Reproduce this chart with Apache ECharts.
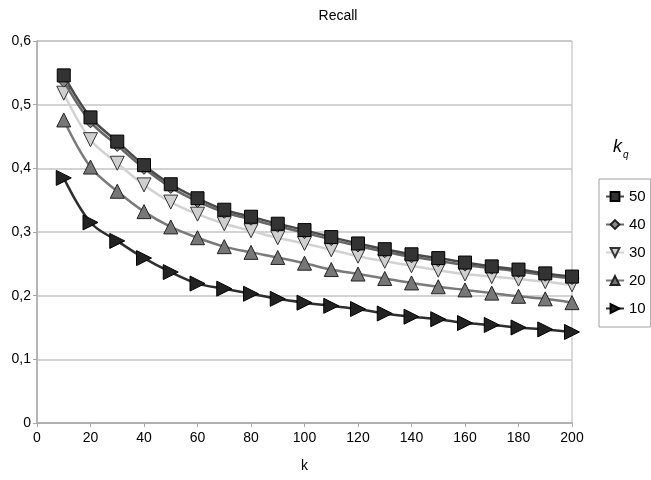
<!DOCTYPE html>
<html><head><meta charset="utf-8">
<script src="https://cdn.jsdelivr.net/npm/echarts@6/dist/echarts.min.js"></script>
<style>html,body{margin:0;padding:0;background:#fff}#c{width:651px;height:480px}</style>
</head><body><div id="c"></div>
<script>
const kValues = [10,20,30,40,50,60,70,80,90,100,110,120,130,140,150,160,170,180,190,200];
const recall50 = [0.546,0.480,0.442,0.405,0.375,0.353,0.335,0.324,0.313,0.303,0.292,0.282,0.273,0.265,0.259,0.252,0.246,0.241,0.235,0.230];
const recall40 = [0.537,0.473,0.436,0.400,0.370,0.348,0.331,0.320,0.309,0.299,0.288,0.278,0.269,0.261,0.255,0.248,0.243,0.238,0.232,0.227];
const recall30 = [0.518,0.445,0.408,0.374,0.347,0.328,0.313,0.302,0.291,0.282,0.272,0.262,0.254,0.247,0.240,0.234,0.230,0.226,0.222,0.217];
const recall20 = [0.476,0.402,0.364,0.332,0.308,0.291,0.277,0.268,0.260,0.251,0.241,0.234,0.227,0.220,0.214,0.209,0.204,0.199,0.195,0.189];
const recall10 = [0.385,0.315,0.286,0.259,0.237,0.219,0.211,0.203,0.195,0.189,0.184,0.179,0.172,0.167,0.163,0.157,0.154,0.150,0.147,0.143];
const seriesNames = ['50','40','30','20','10'];

function pairs(vals){ return kValues.map((k,i)=>[k, vals[i]]); }

const chart = echarts.init(document.getElementById('c'), null, {renderer:'canvas'});
const font = 'Liberation Sans, Arial, sans-serif';
function mk(name, vals, symbol, rot, size, lineColor, fill, border, z){
  return {
    name, type:'line', data: pairs(vals), smooth: 0.35,
    symbol, symbolRotate: rot, symbolSize: size, showSymbol:true,
    lineStyle:{color: lineColor, width: 2.5},
    itemStyle:{color: fill, borderColor: border, borderWidth: 1},
    z, emphasis:{disabled:true}, animation:false
  };
}
chart.setOption({
  animation:false,
  backgroundColor:'#fff',
  title:{text:'Recall', left:333, top:4, textAlign:'center',
    textStyle:{fontFamily:font, fontSize:14, fontWeight:'normal', color:'#000'}},
  graphic:[{type:'text', left:613, top:138, style:{
    text:'{k|k}{q|q}', fontFamily:font,
    rich:{k:{fontSize:18, fontStyle:'italic', fill:'#000', fontFamily:font},
          q:{fontSize:10, fontStyle:'italic', fill:'#000', fontFamily:font, padding:[16,0,0,1]}}
  }}],
  legend:{
    data: seriesNames, orient:'vertical', left:599, top:179,
    itemWidth:18, itemHeight:11, itemGap:13, itemSymbolSize: 9,
    padding:[10,5,11,6], borderColor:'#a0a0a0', borderWidth:1,
    textStyle:{fontFamily:font, fontSize:15, color:'#000'},
    selectedMode:false
  },
  grid:{left:37, right:79, top:41, bottom:57, show:true, borderColor:'#b4b4b4', borderWidth:1},
  xAxis:{type:'value', min:0, max:200, interval:20, name:'k', nameLocation:'middle', nameGap:36,
    nameTextStyle:{fontFamily:font, fontSize:14, color:'#000'},
    axisLine:{show:true, lineStyle:{color:'#a8a8a8', width:1.5}},
    axisTick:{show:true, length:4, lineStyle:{color:'#a8a8a8'}},
    axisLabel:{fontFamily:font, fontSize:14, color:'#000', margin:8},
    splitLine:{show:false}},
  yAxis:{type:'value', min:0, max:0.6, interval:0.1,
    axisLine:{show:true, lineStyle:{color:'#a8a8a8', width:1.5}},
    axisTick:{show:true, length:4, lineStyle:{color:'#a8a8a8'}},
    axisLabel:{fontFamily:font, fontSize:14, color:'#000', margin:6,
      formatter:v=> v===0 ? '0' : v.toFixed(1).replace('.',',')},
    splitLine:{show:true, lineStyle:{color:'#c4c4c4', width:1.5}}},
  series:[
    mk('10', recall10, 'triangle', -90, 15, '#2e2e2e', '#222', '#000', 2),
    mk('20', recall20, 'triangle', 0, 14, '#7a7a7a', '#777', '#222', 3),
    mk('30', recall30, 'triangle', 180, 14, '#d2d2d2', '#cfcfcf', '#333', 4),
    mk('40', recall40, 'diamond', 0, 12, '#666', '#888', '#222', 5),
    mk('50', recall50, 'rect', 0, 13, '#4a4a4a', '#333', '#000', 6)
  ]
});
</script></body></html>
